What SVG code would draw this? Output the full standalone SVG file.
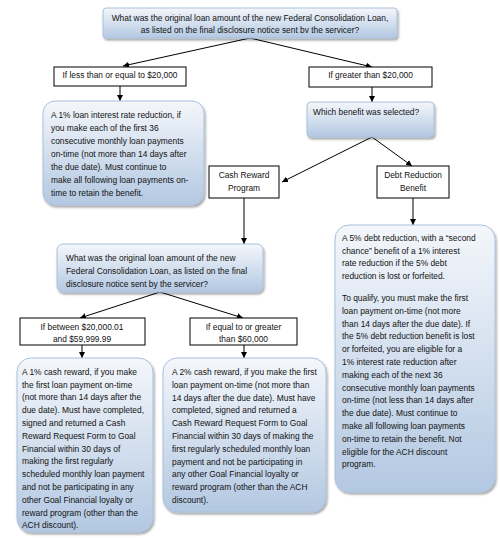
<svg xmlns="http://www.w3.org/2000/svg" width="500" height="538" viewBox="0 0 500 538">
<defs>
<linearGradient id="g" x1="0" y1="0" x2="0" y2="1">
<stop offset="0" stop-color="#f4f7fb"/>
<stop offset="1" stop-color="#b3c8e2"/>
</linearGradient>
<filter id="sh" x="-10%" y="-10%" width="125%" height="125%">
<feDropShadow dx="1.2" dy="2" stdDeviation="1.3" flood-color="#000" flood-opacity="0.35"/>
</filter>
<marker id="ah" viewBox="0 0 10 10" refX="10" refY="5" markerWidth="6" markerHeight="6" orient="auto" markerUnits="userSpaceOnUse">
<path d="M0,0 L10,5 L0,10 z" fill="#000"/>
</marker>
</defs>
<style>
text{font-family:"Liberation Sans",Arial,sans-serif;font-size:8.4px;fill:#111}
.c{text-anchor:middle}
.rb{fill:url(#g);stroke:#a9c0dc;stroke-width:1;filter:url(#sh)}
.bx{fill:#fff;stroke:#000;stroke-width:1}
.ln{stroke:#000;stroke-width:1;fill:none}
.ar{stroke:#000;stroke-width:1;fill:none;marker-end:url(#ah)}
</style>
<rect width="500" height="538" fill="#fff"/>

<g id="connectors">
<path class="ar" d="M250,38 L123,66"/>
<path class="ar" d="M250,38 L372,67"/>
<path class="ar" d="M120,86 L120,101"/>
<path class="ar" d="M372,87 L372,102"/>
<path class="ar" d="M372,137 L282,182"/>
<path class="ar" d="M372,137 L412,166"/>
<path class="ar" d="M244,198 L244,244"/>
<path class="ar" d="M413,198 L413,225"/>
<path class="ar" d="M160,292 L80,318"/>
<path class="ar" d="M160,292 L243,318"/>
<path class="ar" d="M82,345 L82,358"/>
<path class="ar" d="M244,345 L244,358"/>
</g>

<g id="q1">
<rect class="rb" x="103" y="8" width="294" height="30" rx="3"/>
<text class="c" x="250" y="20.5">What was the original loan amount of the new Federal Consolidation Loan,</text>
<text class="c" x="250" y="32.5">as listed on the final disclosure notice sent bv the servicer?</text>
</g>

<g id="lte20k">
<rect class="bx" x="54" y="67" width="132" height="19"/>
<text class="c" x="120" y="77.5">If less than or equal to $20,000</text>
</g>

<g id="gt20k">
<rect class="bx" x="309" y="67" width="123" height="20"/>
<text class="c" x="370.5" y="78">If greater than $20,000</text>
</g>

<g id="benefit1">
<rect class="rb" x="43" y="101" width="161" height="104" rx="12"/>
<text x="51" y="117.5">A 1% loan interest rate reduction, if</text>
<text x="51" y="130.5">you make each of the first 36</text>
<text x="51" y="143.5">consecutive monthly loan payments</text>
<text x="51" y="156.5">on-time (not more than 14 days after</text>
<text x="51" y="169.5">the due date).  Must continue to</text>
<text x="51" y="182.5">make all following loan payments on-</text>
<text x="51" y="195.5">time to retain the benefit.</text>
</g>

<g id="q2">
<rect class="rb" x="307" y="102" width="127" height="35" rx="4"/>
<text x="313" y="115">Which benefit was selected?</text>
</g>

<g id="cash">
<rect class="bx" x="209" y="166" width="70" height="32"/>
<text class="c" x="244" y="178">Cash Reward</text>
<text class="c" x="244" y="190.5">Program</text>
</g>

<g id="debt">
<rect class="bx" x="377" y="166" width="72" height="32"/>
<text class="c" x="413" y="178">Debt Reduction</text>
<text class="c" x="413" y="190.5">Benefit</text>
</g>

<g id="debtText">
<rect class="rb" x="335" y="225" width="160" height="267" rx="14"/>
<text x="342" y="241">A 5% debt reduction, with a “second</text>
<text x="342" y="253.7">chance” benefit of a 1% interest</text>
<text x="342" y="266.4">rate reduction if the 5% debt</text>
<text x="342" y="279">reduction is lost or forfeited.</text>
<text x="342" y="301">To qualify, you must make the first</text>
<text x="342" y="313.8">loan payment on-time (not more</text>
<text x="342" y="326.6">than 14 days after the due date). If</text>
<text x="342" y="339.4">the 5% debt reduction benefit is lost</text>
<text x="342" y="352.2">or forfeited, you are eligible for a</text>
<text x="342" y="365">1% interest rate reduction after</text>
<text x="342" y="377.8">making each of the next 36</text>
<text x="342" y="390.6">consecutive monthly loan payments</text>
<text x="342" y="403.4">on-time (not less than 14 days after</text>
<text x="342" y="416.2">the due date). Must continue to</text>
<text x="342" y="429">make all following loan payments</text>
<text x="342" y="441.8">on-time to retain the benefit. Not</text>
<text x="342" y="454.6">eligible for the ACH discount</text>
<text x="342" y="467.4">program.</text>
</g>

<g id="q3">
<rect class="rb" x="57" y="244" width="206" height="48" rx="6"/>
<text x="66" y="260.5">What was the original loan amount of the new</text>
<text x="66" y="274">Federal Consolidation Loan, as listed on the final</text>
<text x="66" y="287">disclosure notice sent by the servicer?</text>
</g>

<g id="between">
<rect class="bx" x="20" y="318" width="125" height="27"/>
<text class="c" x="82" y="330">If between $20,000.01</text>
<text class="c" x="82" y="342">and $59,999.99</text>
</g>

<g id="gte60k">
<rect class="bx" x="190" y="318" width="107" height="27"/>
<text class="c" x="243.5" y="330">If equal to or greater</text>
<text class="c" x="243.5" y="342">than $60,000</text>
</g>

<g id="reward1">
<rect class="rb" x="17" y="358" width="136" height="174" rx="14"/>
<text x="22" y="374.7">A 1% cash reward, if you make</text>
<text x="22" y="387.5">the first loan payment on-time</text>
<text x="22" y="400.3">(not more than 14 days after the</text>
<text x="22" y="413.1">due date). Must have completed,</text>
<text x="22" y="425.9">signed and returned a Cash</text>
<text x="22" y="438.7">Reward Request Form to Goal</text>
<text x="22" y="451.5">Financial within 30 days of</text>
<text x="22" y="464.3">making the first regularly</text>
<text x="22" y="477.1">scheduled monthly loan payment</text>
<text x="22" y="489.9">and not be participating in any</text>
<text x="22" y="502.7">other Goal Financial loyalty or</text>
<text x="22" y="515.5">reward program (other than the</text>
<text x="22" y="528.3">ACH discount).</text>
</g>

<g id="reward2">
<rect class="rb" x="163" y="358" width="163" height="154" rx="14"/>
<text x="172" y="375">A 2% cash reward, if you make the first</text>
<text x="172" y="387.8">loan payment on-time (not more than</text>
<text x="172" y="400.6">14 days after the due date). Must have</text>
<text x="172" y="413.4">completed, signed and returned a</text>
<text x="172" y="426.2">Cash Reward Request Form to Goal</text>
<text x="172" y="439">Financial within 30 days of making the</text>
<text x="172" y="451.8">first regularly scheduled monthly loan</text>
<text x="172" y="464.6">payment and not be participating in</text>
<text x="172" y="477.4">any other Goal Financial loyalty or</text>
<text x="172" y="490.2">reward program (other than the ACH</text>
<text x="172" y="503">discount).</text>
</g>
</svg>
